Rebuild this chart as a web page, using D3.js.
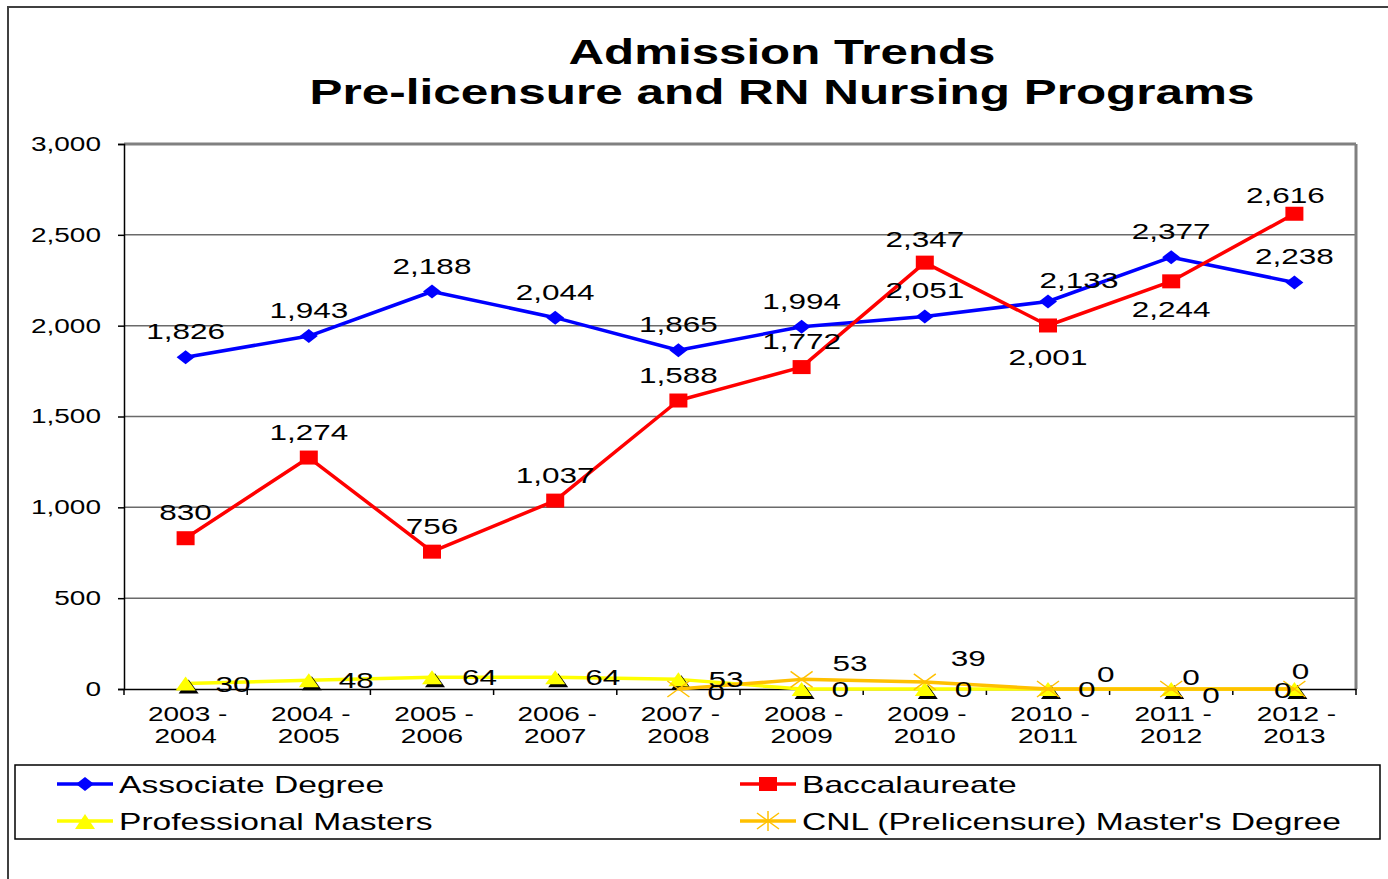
<!DOCTYPE html>
<html>
<head>
<meta charset="utf-8">
<script src="https://d3js.org/d3.v7.min.js"></script>
<style>
    body { margin: 0; background: #fff; }
    svg { display: block; font-family: "Liberation Sans", Arial, sans-serif; }
</style>
</head>
<body>
<svg id="chart" width="1388" height="879"></svg>
<script>
'use strict';

let years = ["2003 -|2004", "2004 -|2005", "2005 -|2006", "2006 -|2007", "2007 -|2008",
             "2008 -|2009", "2009 -|2010", "2010 -|2011", "2011 -|2012", "2012 -|2013"];

let associate = [1826, 1943, 2188, 2044, 1865, 1994, 2051, 2133, 2377, 2238],
    baccalaureate = [830, 1274, 756, 1037, 1588, 1772, 2347, 2001, 2244, 2616],
    profMasters = [30, 48, 64, 64, 53, 0, 0, 0, 0, 0],
    cnlMasters = [null, null, null, null, 0, 53, 39, 0, 0, 0];

let yTicks = [0, 500, 1000, 1500, 2000, 2500, 3000];

let titleLines = ["Admission Trends", "Pre-licensure and RN Nursing Programs"];

let BLUE = "#0000FF",
    RED = "#FF0000",
    YELLOW = "#FFFF00",
    ORANGE = "#FFC000",
    SX = 1.4; // text in the original is stretched wide

// label offsets from each point: [dx, dy, anchor]
let assocLabels = years.map(function() { return [0, -18, "middle"]; });
assocLabels[7] = [31, -14, "middle"];

let bacLabels = years.map(function() { return [0, -18, "middle"]; });
bacLabels[6] = [0, -16, "middle"];
bacLabels[7] = [0, 40, "middle"];
bacLabels[8] = [0, 36, "middle"];
bacLabels[9] = [-9, -11, "middle"];

let pmLabels = years.map(function() { return [30, 8, "start"]; });
pmLabels[8] = [31, 14, "start"];
pmLabels[9] = [-3, 9, "end"];

let cnlLabels = [null, null, null, null, [29, 11, "start"], [31, -8, "start"], [26, -16, "start"],
                 [49, -7, "start"], [11, -4, "start"], [6, -10, "middle"]];

let series = [
    { name: "Associate Degree", values: associate, color: BLUE, marker: "diamond", labels: assocLabels },
    { name: "Baccalaureate", values: baccalaureate, color: RED, marker: "square", labels: bacLabels },
    { name: "Professional Masters", values: profMasters, color: YELLOW, marker: "triangle", labels: pmLabels },
    { name: "CNL (Prelicensure) Master's Degree", values: cnlMasters, color: ORANGE, marker: "star", labels: cnlLabels }
];

let svg = d3.select("#chart");
let plotL = 124, plotR = 1356, plotT = 144, plotB = 689;

let x = d3.scaleBand().domain(years).range([plotL, plotR]);
let y = d3.scaleLinear().domain([0, 3000]).range([plotB, plotT]);
let cx = function(i) { return x(years[i]) + x.bandwidth() / 2; };
let fmt = d3.format(",");

function wideText(g, tx, ty, str, size, anchor, weight) {
    return g.append("text")
        .attr("transform", "translate(" + tx + "," + ty + ") scale(" + SX + ",1)")
        .attr("text-anchor", anchor || "middle")
        .attr("font-size", size)
        .attr("font-weight", weight || "normal")
        .attr("fill", "#000")
        .text(str);
}

function drawMarker(g, type, px, py, color) {
    if (type === "diamond") {
        g.append("path")
            .attr("d", "M" + (px - 9) + "," + py + "L" + px + "," + (py - 7) + "L" + (px + 9) + "," + py + "L" + px + "," + (py + 7) + "Z")
            .attr("fill", color);
    } else if (type === "square") {
        g.append("rect")
            .attr("x", px - 9).attr("y", py - 7)
            .attr("width", 18).attr("height", 14)
            .attr("fill", color);
    } else if (type === "triangle") {
        g.append("path")
            .attr("d", "M" + (px - 7) + "," + (py + 10) + "L" + (px + 3) + "," + (py - 4) + "L" + (px + 13) + "," + (py + 10) + "Z")
            .attr("fill", "#000");
        g.append("path")
            .attr("d", "M" + (px - 10) + "," + (py + 7) + "L" + px + "," + (py - 7) + "L" + (px + 10) + "," + (py + 7) + "Z")
            .attr("fill", color);
    } else {
        g.append("path")
            .attr("d", "M" + (px - 11) + "," + (py - 8) + "L" + (px + 11) + "," + (py + 8) +
                       "M" + (px - 11) + "," + (py + 8) + "L" + (px + 11) + "," + (py - 8))
            .attr("stroke", color).attr("stroke-width", 1.5);
    }
}

// outer chart frame
svg.append("path")
    .attr("d", "M8,879L8,7L1388,7")
    .attr("fill", "none").attr("stroke", "#404040").attr("stroke-width", 2);

// title
titleLines.forEach(function(line, i) {
    svg.append("text")
        .attr("x", 782).attr("y", 64 + i * 40)
        .attr("text-anchor", "middle")
        .attr("font-size", 35).attr("font-weight", "bold")
        .attr("textLength", i === 0 ? 427 : 945)
        .attr("lengthAdjust", "spacingAndGlyphs")
        .text(line);
});

// gridlines
svg.append("g")
    .selectAll("line")
    .data(yTicks.filter(function(t) { return t > 0; }))
    .enter().append("line")
    .attr("x1", plotL).attr("x2", plotR)
    .attr("y1", function(d) { return y(d); })
    .attr("y2", function(d) { return y(d); })
    .attr("stroke", function(d) { return d === 3000 ? "#808080" : "#6a6a6a"; })
    .attr("stroke-width", function(d) { return d === 3000 ? 3 : 1.5; });

// right border
svg.append("line")
    .attr("x1", plotR).attr("x2", plotR).attr("y1", plotT).attr("y2", plotB)
    .attr("stroke", "#808080").attr("stroke-width", 3);

// y axis
let yAxis = svg.append("g")
    .attr("transform", "translate(" + plotL + ",0)")
    .call(d3.axisLeft(y).tickValues(yTicks).tickFormat(fmt).tickSizeOuter(0).tickSize(6));
yAxis.select(".domain").attr("stroke", "#000").attr("stroke-width", 1.5);
yAxis.selectAll(".tick line").attr("stroke", "#000").attr("stroke-width", 1.5);
yAxis.selectAll(".tick text")
    .attr("font-size", 20)
    .attr("font-family", "Liberation Sans, Arial, sans-serif")
    .attr("fill", "#000")
    .attr("x", -23 / SX)
    .attr("transform", "scale(" + SX + ",1)");

// x axis
let xAxis = svg.append("g")
    .attr("transform", "translate(0," + plotB + ")")
    .call(d3.axisBottom(x).tickSize(0).tickFormat(""));
xAxis.select(".domain").attr("stroke", "#000").attr("stroke-width", 1.5);
xAxis.selectAll(".tick").remove();
xAxis.selectAll(".sep")
    .data(d3.range(years.length + 1))
    .enter().append("line")
    .attr("x1", function(i) { return plotL + i * x.bandwidth(); })
    .attr("x2", function(i) { return plotL + i * x.bandwidth(); })
    .attr("y1", 0).attr("y2", 6)
    .attr("stroke", "#000").attr("stroke-width", 1.5);

let xl = svg.append("g");
years.forEach(function(yr, i) {
    let parts = yr.split("|");
    wideText(xl, cx(i) + 2, 721, parts[0], 20);
    wideText(xl, cx(i), 743, parts[1], 20);
});

// lines and markers
let line = d3.line()
    .defined(function(d) { return d !== null; })
    .x(function(d, i) { return cx(i); })
    .y(function(d) { return y(d); });

series.forEach(function(s) {
    let g = svg.append("g");
    g.append("path")
        .datum(s.values)
        .attr("d", line)
        .attr("fill", "none")
        .attr("stroke", s.color)
        .attr("stroke-width", 3.5)
        .attr("stroke-linejoin", "round");
    s.values.forEach(function(v, i) {
        if (v !== null) drawMarker(g, s.marker, cx(i), y(v), s.color);
    });
});

// data labels
let lab = svg.append("g");
series.forEach(function(s) {
    s.values.forEach(function(v, i) {
        if (v === null) return;
        let p = s.labels[i];
        wideText(lab, cx(i) + p[0], y(v) + p[1], fmt(v), 22.5, p[2]);
    });
});

// legend
svg.append("rect")
    .attr("x", 15).attr("y", 765)
    .attr("width", 1365).attr("height", 74)
    .attr("fill", "none").attr("stroke", "#000").attr("stroke-width", 1.5);

let legendPos = [[57, 784], [740, 784], [57, 821], [740, 821]];
series.forEach(function(s, i) {
    let lx = legendPos[i][0], ly = legendPos[i][1];
    let g = svg.append("g");
    g.append("line")
        .attr("x1", lx).attr("x2", lx + 56)
        .attr("y1", ly).attr("y2", ly)
        .attr("stroke", s.color).attr("stroke-width", 3.5);
    if (s.marker === "triangle") {
        g.append("path")
            .attr("d", "M" + (lx + 18) + "," + (ly + 8) + "L" + (lx + 28) + "," + (ly - 7) + "L" + (lx + 38) + "," + (ly + 8) + "Z")
            .attr("fill", s.color);
    } else if (s.marker === "star") {
        drawMarker(g, "star", lx + 28, ly, s.color);
        g.append("line")
            .attr("x1", lx + 28).attr("x2", lx + 28)
            .attr("y1", ly - 10).attr("y2", ly + 10)
            .attr("stroke", s.color).attr("stroke-width", 1.5);
    } else {
        drawMarker(g, s.marker, lx + 28, ly, s.color);
    }
    wideText(g, lx + 62, ly + 9, s.name, 24, "start");
});
</script>
</body>
</html>
